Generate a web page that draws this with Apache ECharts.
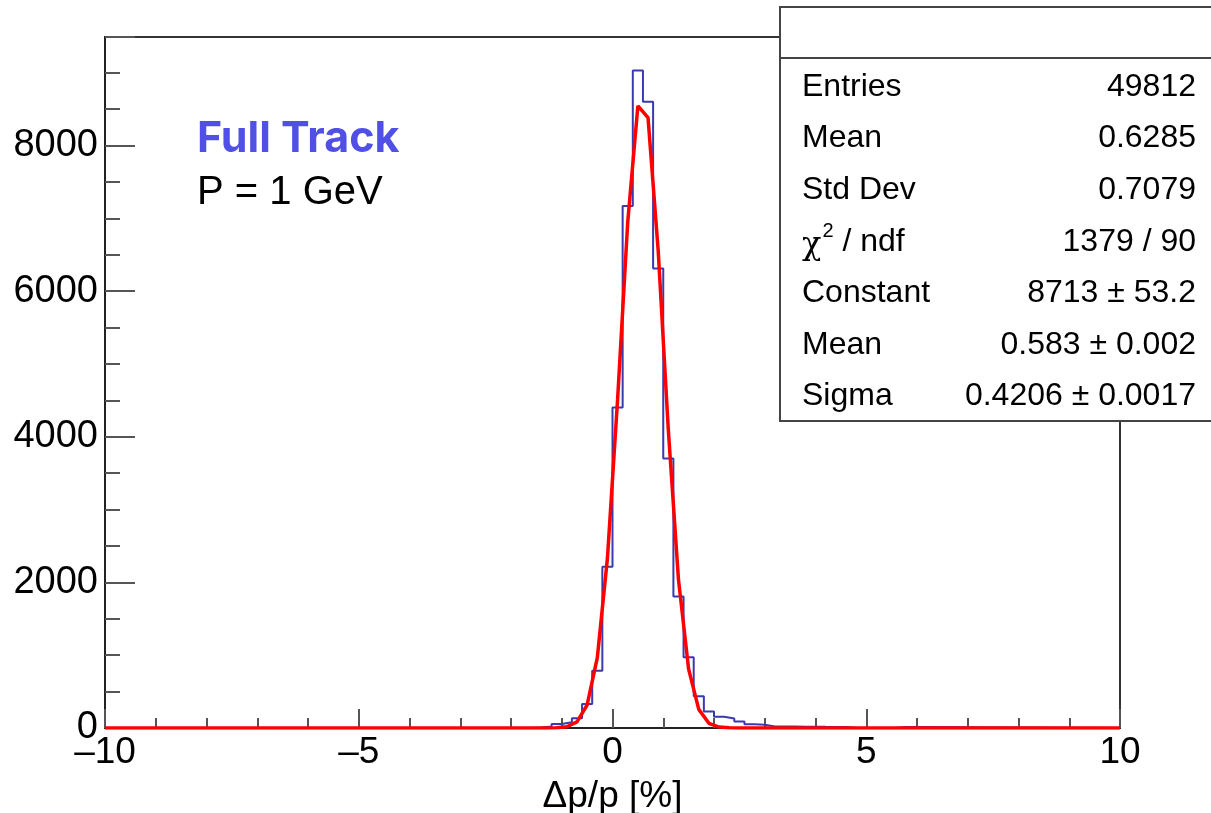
<!DOCTYPE html>
<html>
<head>
<meta charset="utf-8">
<title>Full Track dp/p</title>
<script src="https://cdn.jsdelivr.net/npm/echarts@6/dist/echarts.min.js"></script>
<style>
  html, body { margin: 0; padding: 0; background: #fff; }
  #main { width: 1211px; height: 813px; }
</style>
</head>
<body>
<div id="main"></div>
<script>
// histogram: 0.2 wide bins, only the non-empty part is listed
var firstEdge = -1.6;
var binWidth = 0.2;
var counts = [8, 22, 55, 80, 135, 330, 785, 2215, 4400, 7170,
              9030, 8600, 6310, 3700, 1805, 970, 435, 228, 155, 132,
              88, 52, 45, 22, 20, 20, 18, 18, 16, 15,
              14, 2, 1, 1, 1, 2, 15, 15];

// gaus fit curve, read at bin centres
var fitX = [-10, -1.5, -1.3, -1.1, -0.9, -0.7, -0.5, -0.3, -0.1, 0.1, 0.3,
            0.5, 0.7, 0.9, 1.1, 1.3, 1.5, 1.7, 1.9, 2.1, 2.3, 2.5, 10];
var fitY = [0, 0, 0.4, 2.9, 17, 83, 316, 962, 2331, 4506, 6948,
            8545, 8382, 6559, 4093, 2038, 809, 256, 65, 13, 2, 0, 0];

var statLabels = ['Entries', 'Mean', 'Std Dev', '{c|\u03c7}{s|2}{n| / ndf}', 'Constant', 'Mean', 'Sigma'];
var statValues = ['49812', '0.6285', '0.7079', '1379 / 90', '8713 \u00b1 53.2', '0.583 \u00b1 0.002', '0.4206 \u00b1 0.0017'];

var xTicks = { min: -10, max: 10, step: 5 };
var yTicks = { min: 0, max: 9490, step: 2000, minor: 500 };

var rootFont = '"Liberation Sans", Arial, Helvetica, sans-serif';

// build step data for the histogram outline
var histData = [[-10, 0]];
for (var i = 0; i < counts.length; i++) {
    histData.push([+(firstEdge + i * binWidth).toFixed(1), counts[i]]);
}
histData.push([+(firstEdge + counts.length * binWidth).toFixed(1), 0]);
histData.push([10, 0]);

var fitData = fitX.map(function (x, k) { return [x, fitY[k]]; });

var myChart = echarts.init(document.getElementById('main'));

// stats box
var stats = [];
stats.push({
    type: 'rect', z: 100,
    shape: { x: 780, y: 7, width: 450, height: 414 },
    style: { fill: '#fff', stroke: '#444', lineWidth: 2 }
});
stats.push({
    type: 'line', z: 101,
    shape: { x1: 780, y1: 58, x2: 1211, y2: 58 },
    style: { stroke: '#444', lineWidth: 2 }
});
for (var r = 0; r < statLabels.length; r++) {
    var cy = 87 + r * 51.6;
    stats.push({
        type: 'text', z: 102,
        style: {
            x: 802, y: cy, text: statLabels[r],
            font: '32px ' + rootFont, fill: '#000',
            verticalAlign: 'middle', align: 'left',
            rich: {
                c: { fontSize: 32, fontFamily: 'DejaVu Serif', padding: [8, 0, 0, 0] },
                s: { fontSize: 20, fontFamily: rootFont, verticalAlign: 'top', padding: [0, 0, 12, 1] },
                n: { fontSize: 32, fontFamily: rootFont }
            }
        }
    });
    stats.push({
        type: 'text', z: 102,
        style: {
            x: 1196, y: cy, text: statValues[r],
            font: '32px ' + rootFont, fill: '#000',
            verticalAlign: 'middle', align: 'right'
        }
    });
}

var option = {
    animation: false,
    backgroundColor: '#fff',
    grid: {
        left: 105, right: 91, top: 37, bottom: 85,
        outerBoundsMode: 'none',
        containLabel: false,
        show: true, borderColor: '#333', borderWidth: 2, backgroundColor: 'transparent'
    },
    xAxis: {
        type: 'value',
        min: xTicks.min, max: xTicks.max, interval: xTicks.step,
        name: '\u0394p/p [%]',
        nameLocation: 'middle',
        nameGap: 50,
        nameTextStyle: { fontSize: 37, color: '#000', fontFamily: rootFont },
        axisLine: { show: true, onZero: false, lineStyle: { color: '#222', width: 2 } },
        axisTick: { show: true, inside: true, length: 19, lineStyle: { color: '#555', width: 2 } },
        minorTick: { show: true, splitNumber: 5, length: 10, lineStyle: { color: '#555', width: 2 } },
        splitLine: { show: false },
        axisLabel: {
            fontSize: 37, color: '#000', fontFamily: rootFont, margin: 6,
            formatter: function (v) { return v < 0 ? '\u2013' + Math.abs(v) : String(v); }
        }
    },
    yAxis: [{
        type: 'value',
        position: 'left',
        min: yTicks.min, max: yTicks.max, interval: yTicks.step,
        axisLine: { show: true, onZero: false, lineStyle: { color: '#222', width: 2 } },
        axisTick: { show: true, inside: true, length: 30, lineStyle: { color: '#555', width: 2 } },
        splitLine: { show: false },
        axisLabel: {
            fontSize: 38, color: '#000', fontFamily: rootFont, margin: 7,
            formatter: function (v) { return v % yTicks.step === 0 ? String(v) : ''; }
        }
    }, {
        type: 'value',
        position: 'left',
        min: yTicks.min, max: yTicks.max, interval: yTicks.minor,
        axisLine: { show: false, onZero: false },
        axisTick: { show: true, inside: true, length: 15, lineStyle: { color: '#555', width: 2 } },
        splitLine: { show: false },
        axisLabel: { show: false }
    }],
    series: [{
        name: 'hist',
        type: 'line',
        step: 'end',
        data: histData,
        symbol: 'none',
        z: 3,
        lineStyle: { color: '#3a3ab0', width: 2 }
    }, {
        name: 'gaus',
        type: 'line',
        data: fitData,
        symbol: 'none',
        smooth: false,
        z: 4,
        lineStyle: { color: '#ff0000', width: 3.5 }
    }],
    graphic: [
        {
            type: 'text', z: 50,
            style: {
                x: 197, y: 139, text: 'Full Track',
                font: 'bold 43px Inter, "Open Sans", sans-serif', fill: '#5050e6',
                verticalAlign: 'middle'
            }
        },
        {
            type: 'text', z: 50,
            style: {
                x: 197, y: 193, text: 'P = 1 GeV',
                font: '40px ' + rootFont, fill: '#000',
                verticalAlign: 'middle'
            }
        }
    ].concat(stats)
};

myChart.setOption(option);
</script>
</body>
</html>
